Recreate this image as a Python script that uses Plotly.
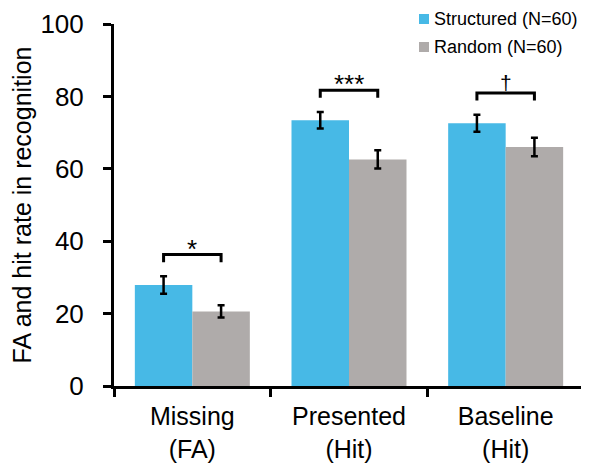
import plotly.graph_objects as go

categories = ["Missing<br>(FA)", "Presented<br>(Hit)", "Baseline<br>(Hit)"]
series_names = ["Structured (N=60)", "Random (N=60)"]
structured = [27.9, 73.4, 72.6]
structured_err = [2.4, 2.3, 2.35]
random_vals = [20.6, 62.6, 66.0]
random_err = [1.7, 2.5, 2.55]
sig_labels = ["*", "***", "\u2020"]
y_ticks = [0, 20, 40, 60, 80, 100]

FONT = "Liberation Sans, Arial, Helvetica, sans-serif"
COLORS = ["#47B9E6", "#AFABAA"]
BARGAP = 0.266

W, H = 581, 458
L, R, T, B = 106, 5, 16, 80
PW, PH = W - L - R, H - T - B

fig = go.Figure()
for name, vals, errs, col in zip(series_names, [structured, random_vals],
                                  [structured_err, random_err], COLORS):
    fig.add_trace(go.Bar(
        x=categories, y=vals, name=name,
        marker=dict(color=col, line=dict(width=0)),
        error_y=dict(type="data", array=errs, color="black", thickness=2.5, width=3.5),
        showlegend=False,
    ))

# significance brackets connecting bar centers
half = (1 - BARGAP) / 4
for i, lab in enumerate(sig_labels):
    top = max(structured[i] + structured_err[i], random_vals[i] + random_err[i])
    yb = top + 6.0
    x0, x1 = i - half, i + half
    fig.add_shape(type="path",
                  path=f"M {x0} {yb-2.1} L {x0} {yb} L {x1} {yb} L {x1} {yb-2.1}",
                  xref="x", yref="y", line=dict(color="black", width=3))
    is_dag = lab == "\u2020"
    fig.add_annotation(x=i, y=yb, xref="x", yref="y", text=lab, showarrow=False,
                       yanchor="bottom", yshift=-3 if is_dag else -11,
                       font=dict(family=FONT, size=21 if is_dag else 26, color="black"))

# legend (squares + labels) drawn at the top right
for k, (name, col) in enumerate(zip(series_names, COLORS)):
    cy = 11 + 28 * k  # px from top of figure
    fig.add_shape(type="rect", xref="paper", yref="paper",
                  x0=(411 - L) / PW, x1=(421 - L) / PW,
                  y0=(H - B - (cy + 5)) / PH, y1=(H - B - (cy - 5)) / PH,
                  fillcolor=col, line=dict(width=0))
    fig.add_annotation(xref="paper", yref="paper", x=(425 - L) / PW,
                       y=(H - B - cy) / PH, text=name, showarrow=False,
                       xanchor="left", yanchor="middle", borderpad=0,
                       font=dict(family=FONT, size=18, color="black"))

fig.update_layout(
    width=W, height=H,
    margin=dict(l=L, r=R, t=T, b=B, autoexpand=False),
    paper_bgcolor="white", plot_bgcolor="white",
    barmode="group", bargap=BARGAP, bargroupgap=0,
    font=dict(family=FONT, color="black"),
    showlegend=False,
)
fig.update_xaxes(
    automargin=False,
    showline=True, linecolor="black", linewidth=3,
    ticks="outside", tickson="boundaries", ticklen=8, tickwidth=3, tickcolor="black",
    tickfont=dict(size=25, family=FONT), ticklabelstandoff=6,
    showgrid=False, zeroline=False,
)
fig.update_yaxes(
    automargin=False,
    range=[0, 100], tickvals=y_ticks,
    showline=True, linecolor="black", linewidth=3,
    ticks="outside", ticklen=8, tickwidth=3, tickcolor="black",
    tickfont=dict(size=26, family=FONT), ticklabelstandoff=14,
    showgrid=False, zeroline=False,
    title=dict(text="FA and hit rate in recognition", font=dict(size=25, family=FONT),
               standoff=2),
)
fig.write_html("out.html")
